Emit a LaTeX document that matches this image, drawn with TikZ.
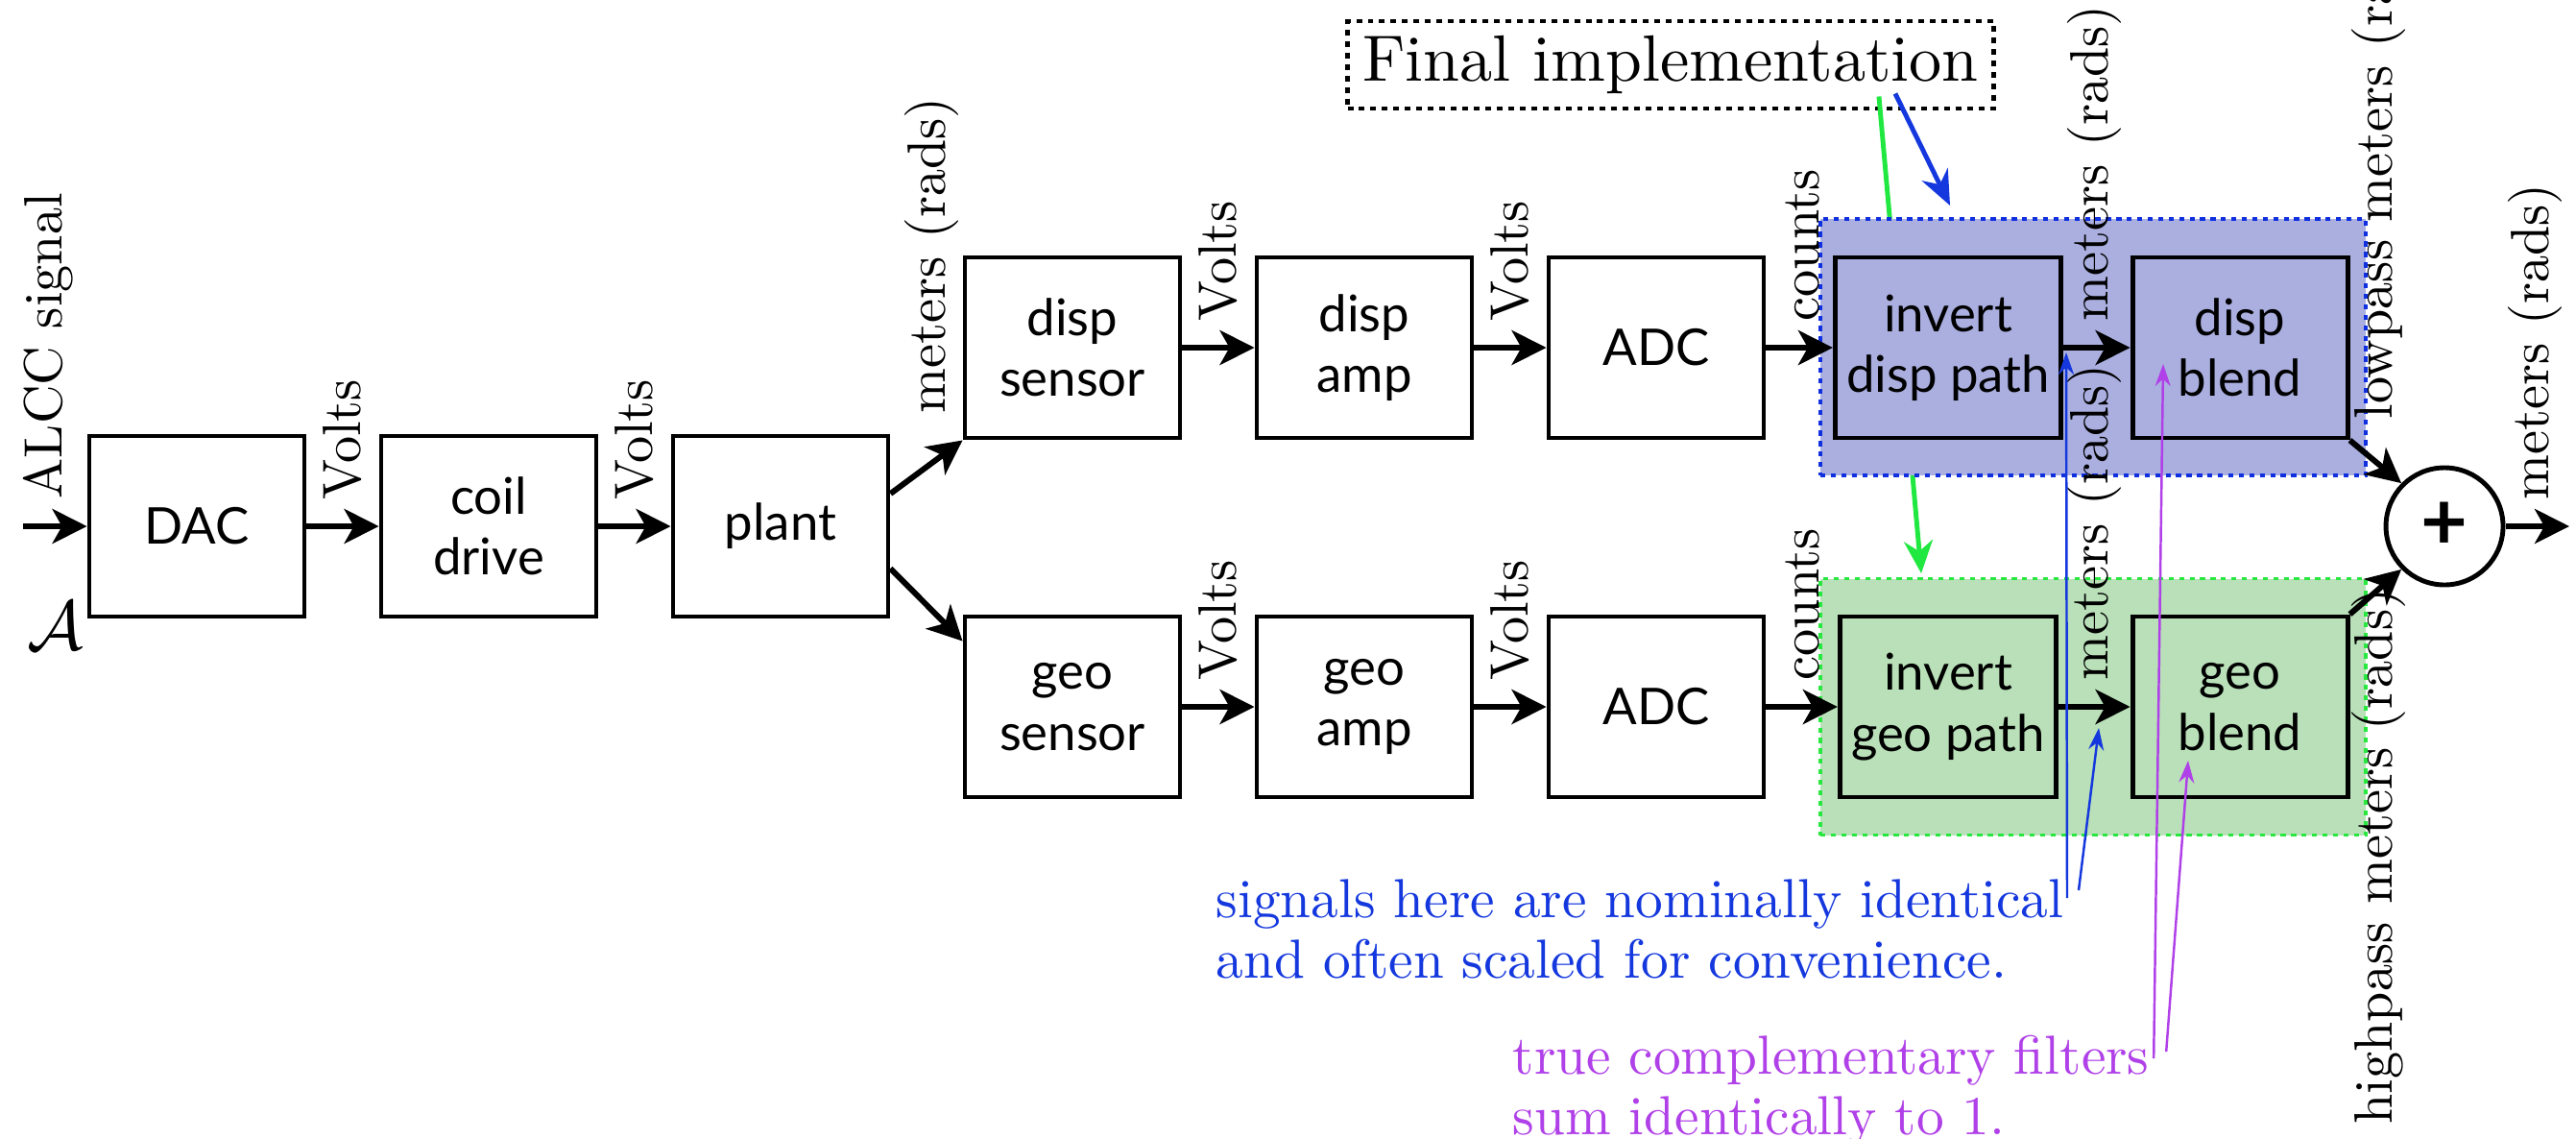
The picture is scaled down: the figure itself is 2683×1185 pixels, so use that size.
\documentclass[tikz,border=0pt]{standalone}
\usepackage{fontspec}
\newfontfamily\blockfont{Lato}
\newfontfamily\cmten{lmroman10-regular.otf}
\usetikzlibrary{arrows.meta}

\definecolor{noteblue}{RGB}{20,56,222}
\definecolor{notepurple}{RGB}{176,64,232}
\definecolor{implgreen}{RGB}{32,232,64}
\definecolor{dispfill}{RGB}{170,175,224}
\definecolor{geofill}{RGB}{185,224,185}
\definecolor{dispedge}{RGB}{16,48,224}
\definecolor{geoedge}{RGB}{40,232,64}

\tikzset{
    block/.style = {draw, line width = 1.4pt, minimum width = 22.4mm, minimum height = 18.8mm,
        align = center, font = \blockfont\fontsize{15}{18}\selectfont},
    signal/.style = {-{Stealth[length = 3.6mm, width = 3.6mm, inset = 1mm]}, line width = 1.7pt},
    units/.style = {rotate = 90, anchor = west, inner sep = 0pt, font = \cmten\fontsize{16}{19}\selectfont},
    pointer/.style = {-{Stealth[length = 2.3mm, width = 1.6mm]}, line width = 0.7pt},
    pathbox/.style = {line width = 1.1pt, dash pattern = on 1.5pt off 1.6pt,
        minimum width = 56.8mm, minimum height = 26.7mm},
    note/.style = {anchor = north west, align = left, inner sep = 0pt, font = \cmten\fontsize{16.3}{18}\selectfont}
}

\begin{document}
\begin{tikzpicture}[x = 0.1mm, y = -0.1mm]
    \useasboundingbox (0, 0) rectangle (2683, 1185);

    % implementation label
    \node[draw, line width = 1.4pt, dash pattern = on 1.7pt off 1.7pt, minimum width = 67.3mm,
        minimum height = 9.1mm, inner sep = 1.5mm, font = \cmten\fontsize{19.4}{22}\selectfont]
        (final) at (1740, 67.5) {Final implementation};
    \coordinate (geotop) at (2001, 597);
    \coordinate (disptop) at (2031, 214);
    \draw[-{Stealth[length = 3.4mm, width = 3mm]}, line width = 1.4pt, implgreen]
        ([xshift = -12.2mm, yshift = 1.5mm]final.south east) -- (geotop);

    % shaded paths
    \node[pathbox, draw = dispedge, fill = dispfill] (disppath) at (2180, 361.5) {};
    \node[pathbox, draw = geoedge, fill = geofill] (geopath) at (2180, 736) {};
    \draw[-{Stealth[length = 3.6mm, width = 3mm]}, line width = 1.4pt, noteblue]
        ([xshift = -10.5mm, yshift = 1.8mm]final.south east) -- (disptop);

    % actuation chain
    \node[block] (dac) at (205, 548) {DAC};
    \node[block] (coil) at (509, 548) {coil\\drive};
    \node[block] (plant) at (813, 548) {plant};

    % displacement sensor path
    \node[block] (dsens) at (1117, 362) {disp\\sensor};
    \node[block] (damp) at (1421, 362) {disp\\amp};
    \node[block] (dadc) at (1725, 362) {ADC};
    \node[block] (dinv) at (2029, 362) {invert\\disp path};
    \node[block] (dblend) at (2333, 362) {disp\\blend};

    % geophone path
    \node[block] (gsens) at (1117, 736) {geo\\sensor};
    \node[block] (gamp) at (1421, 736) {geo\\amp};
    \node[block] (gadc) at (1725, 736) {ADC};
    \node[block] (ginv) at (2029, 736) {invert\\geo path};
    \node[block] (gblend) at (2333, 736) {geo\\blend};

    \node[circle, draw, line width = 1.4pt, minimum size = 12.2mm, inner sep = 0pt,
        font = \blockfont\fontsize{24}{24}\selectfont\bfseries] (sum) at (2546, 548) {+};

    \coordinate (in) at (24, 548);
    \coordinate (out) at (2676, 548);

    \draw[signal] (in) -- (dac);
    \draw[signal] (dac) -- (coil);
    \draw[signal] (coil) -- (plant);
    \draw[signal] ([yshift = 3.4mm]plant.east) -- (dsens.south west);
    \draw[signal] ([yshift = -4.4mm]plant.east) -- ([yshift = -2.8mm]gsens.north west);
    \foreach \a/\b in {dsens/damp, damp/dadc, dadc/dinv, dinv/dblend,
                       gsens/gamp, gamp/gadc, gadc/ginv, ginv/gblend}
        \draw[signal] (\a) -- (\b);
    \draw[signal] (dblend.south east) -- (sum.135);
    \draw[signal] (gblend.north east) -- (sum.225);
    \draw[signal] (sum) -- (out);

    % units on the signals
    \node[units] (lin) at (50, 520) {ALCC signal};
    \node[font = \fontsize{20}{24}\selectfont] (lsym) at (58, 652) {$\mathcal{A}$};
    \node[units] (lv1) at (357, 521) {Volts};
    \node[units] (lv2) at (661, 521) {Volts};
    \node[units] (lm0) at (970, 431) {meters (rads)};
    \foreach \y/\r in {335/d, 709/g} {
        \node[units] (\r v1) at (1269, \y) {Volts};
        \node[units] (\r v2) at (1573, \y) {Volts};
        \node[units] (\r c) at (1877, \y) {counts};
        \node[units] (\r m) at (2181, \y) {meters (rads)};
    }
    \node[units] (llow) at (2477, 437) {lowpass meters (rads)};
    \node[units, anchor = east] (lhigh) at (2477, 612) {highpass meters (rads)};
    \node[units] (lout) at (2640, 521) {meters (rads)};

    % notes
    \node[note, noteblue] (same) at (1266, 915)
        {signals here are nominally identical\\and often scaled for convenience.};
    \node[note, notepurple] (sumone) at (1575, 1077)
        {true complementary filters\\sum identically to 1.};
    \coordinate (dmeas) at (2152, 367);
    \coordinate (gmeas) at (2186, 758);
    \coordinate (dfilt) at (2253, 379);
    \coordinate (gfilt) at (2279, 792);
    \draw[pointer, noteblue] ([xshift = 0.3mm, yshift = -2mm]same.north east) -- (dmeas);
    \draw[pointer, noteblue] ([xshift = 1.5mm, yshift = -1.2mm]same.north east) -- (gmeas);
    \draw[pointer, notepurple] ([xshift = 0.4mm, yshift = -2.5mm]sumone.north east) -- (dfilt);
    \draw[pointer, notepurple] ([xshift = 1.7mm, yshift = -1.8mm]sumone.north east) -- (gfilt);
\end{tikzpicture}
\end{document}
